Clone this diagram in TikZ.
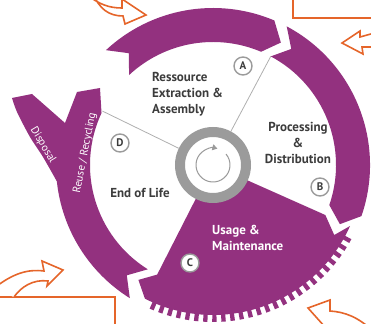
\documentclass[tikz,border=0pt]{standalone}
\usepackage{fontspec}
\setmainfont{PT Sans}
\usetikzlibrary{arrows.meta}
\definecolor{purp}{HTML}{93317F}
\definecolor{orng}{HTML}{E5652A}
\definecolor{ringgray}{HTML}{9B9B9B}
\definecolor{txtgray}{HTML}{3C3C3C}
\tikzset{
 phase/.style={font=\fontsize{13}{16}\selectfont\bfseries, text=txtgray, inner sep=0pt},
 letter/.style={circle, draw=ringgray, line width=1.4pt, fill=white, minimum size=18pt, inner sep=0pt, font=\fontsize{11}{11}\selectfont\bfseries, text=txtgray},
 bandtext/.style={text=white, inner sep=0pt, font=\fontsize{11}{11}\selectfont},
 outline/.style={draw=orng, line width=1.6pt, fill=white, line join=miter},
 divider/.style={draw=ringgray!80, line width=0.8pt},
 hub/.style={circle, draw=ringgray, line width=10pt, fill=white, minimum size=66pt, inner sep=0pt}
}
%band piece: tail (notch) at #1, head (point) at #2
\newcommand{\bandseg}[2]{%
 \fill[purp] (#1:\rout) arc[start angle=#1, end angle={#2+6}, radius=\rout] -- (#2:\rmid)
  -- ({#2+6}:\rin) arc[start angle={#2+6}, end angle=#1, radius=\rin] -- ({#1-6}:\rmid) -- cycle;}
\begin{document}
\begin{tikzpicture}[x=1pt,y=1pt]
\pgfmathsetmacro{\rin}{123}            %band radii
\pgfmathsetmacro{\rout}{157}
\pgfmathsetmacro{\rmid}{140}
\clip (-213,-158) rectangle (158,165);
%orange frames
\draw[orng, line width=1.6pt] (80,170)--(80,147)--(165,147);
\draw[orng, line width=1.6pt] (-220,-132)--(-98,-132)--(-98,-165);
%orange arrows
\draw[outline] (-128,172) .. controls (-114,160) and (-103,157) .. (-91,157) -- (-91,166) -- (-67,150) -- (-88,141)
 -- (-90,149) .. controls (-104,149) and (-114,156) .. (-120,172);
\draw[outline] (165,133) -- (147,128) -- (147,134) -- (129,122) -- (150,111) -- (149,118) -- (165,118);
\draw[outline] (-220,-124) .. controls (-200,-108) and (-185,-104) .. (-169,-106) -- (-171,-96) -- (-150,-105)
 -- (-166,-121) -- (-165,-116) .. controls (-180,-114) and (-192,-122) .. (-199,-132);
\draw[outline] (160,-166) .. controls (145,-152) and (132,-147) .. (117,-146) -- (117,-135) -- (95,-143)
 -- (112,-162) -- (120,-170);
%top and right band
\bandseg{133}{61}
\bandseg{62}{-25}
%usage sector with gear rim
\fill[purp] (0,0) -- (-24:\rin) -- (-30:\rmid) -- (-24:150) arc[start angle=-24, end angle=-117, radius=150]
 -- (-123:137) -- (-117:\rin) -- cycle;
\foreach \i in {0,...,25}{
 \pgfmathsetmacro{\a}{-29-3.36*\i}
 \fill[purp] ({\a+0.8}:148) -- ({\a+0.8}:157) arc[start angle={\a+0.8}, end angle={\a-0.8}, radius=157] -- ({\a-0.8}:148) -- cycle;
}
%end of life band and fork
\fill[purp] (238:\rout) -- (232:\rmid) -- (238:\rin) arc[start angle=238, end angle=155, radius=\rin]
 -- (-113,77) -- (-136,73) -- (-148,42) -- (-181,71) -- (-201,67)
 -- plot[smooth] coordinates {(-201,67) (-196,53) (-183,28) (-170,8) (186:\rout)}
 arc[start angle=186, end angle=238, radius=\rout] -- cycle;
\node[bandtext, rotate=-59] (disposal) at (-170,20) {Disposal};
\node[bandtext, rotate=79] (reuse) at (-128,12) {Reuse / Recycling};
%hub and dividers
\node[hub] (hub) at (0,0) {};
\coordinate (cutAB) at (62:\rin);
\coordinate (cutDA) at (154:\rin);
\draw[divider] (hub.62) -- (cutAB);
\draw[divider] (hub.154) -- (cutDA);
\draw[ringgray, line width=1pt, -{Triangle[length=5pt,width=6pt]}] (40:17) arc[start angle=40, end angle=-285, radius=17];
%phase texts
\node[phase, anchor=north west, align=left] (extract) at (-61,93) {Ressource\\Extraction \&\\Assembly};
\node[phase, anchor=north, align=center] (process) at (85,43) {Processing\\\&\\Distribution};
\node[phase, anchor=base] (eol) at (-73,-33) {End of Life};
\node[phase, anchor=north west, align=left, text=white] (usage) at (-1,-60) {Usage \&\\Maintenance};
%letters
\node[letter] (markA) at (30,99) {A};
\node[letter] (markB) at (107,-22) {B};
\node[letter] (markC) at (-23,-98) {C};
\node[letter] (markD) at (-93,22) {D};
\end{tikzpicture}
\end{document}
